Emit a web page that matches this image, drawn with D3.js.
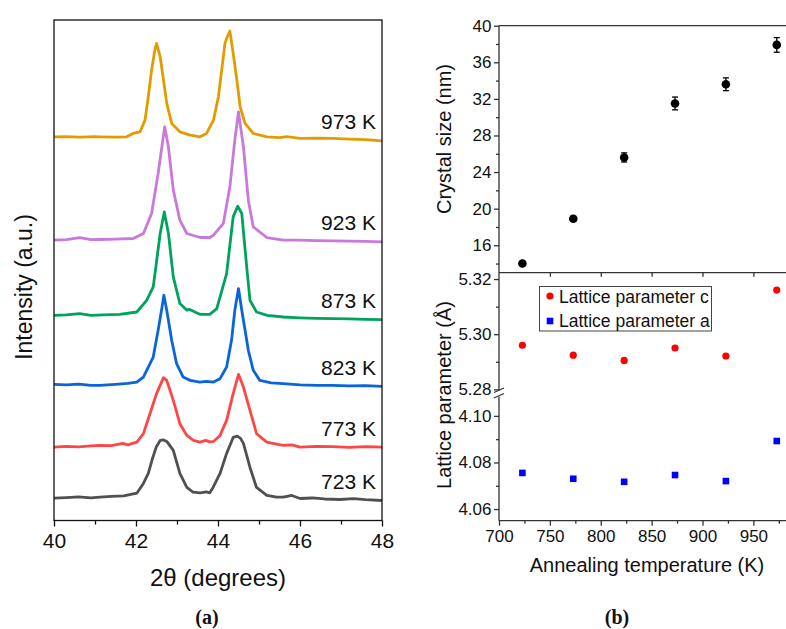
<!DOCTYPE html>
<html><head><meta charset="utf-8">
<script src="https://cdn.jsdelivr.net/npm/d3@7"></script>
<style>
body{margin:0;background:#fff}
svg{display:block;font-family:"Liberation Sans",Arial,sans-serif}
</style>
</head><body><div id="chart"></div>
<script>
// ---------- Panel (a): XRD patterns, [2theta, intensity (a.u.)] ----------
const xrd723 = [[40.00,22.3],[40.30,22.8],[40.60,23.5],[40.90,22.6],[41.12,23.3],[41.40,24.0],[41.70,24.6],[42.02,27.3],[42.18,37],[42.30,47],[42.41,63],[42.50,74],[42.59,80],[42.67,80.5],[42.75,79],[42.91,70],[43.07,47],[43.24,33],[43.39,28.3],[43.56,27.7],[43.72,28.5],[43.80,27.7],[43.88,33],[44.05,47],[44.21,67],[44.37,83],[44.47,84.3],[44.55,82],[44.62,77],[44.78,53],[44.94,33],[45.19,25],[45.40,23.5],[45.59,23.3],[45.80,25],[46.00,22],[46.30,22.5],[46.60,21.5],[46.98,21],[47.30,21.8],[47.60,20.8],[48.00,20]];
const xrd773 = [[40.00,73.3],[40.30,74],[40.60,73.5],[40.90,74.5],[41.12,75],[41.40,74.8],[41.68,77],[41.80,75.5],[42.02,78.3],[42.18,86.7],[42.34,106.7],[42.50,126.7],[42.67,142.7],[42.75,140],[42.91,120],[43.07,96.7],[43.24,85],[43.40,80],[43.56,78.3],[43.70,80],[43.80,78.5],[43.89,79],[44.05,85],[44.21,100],[44.37,126.7],[44.50,146],[44.62,133.3],[44.78,110],[44.94,86.7],[45.19,78.3],[45.40,76.5],[45.59,75],[45.80,75.5],[46.00,73.3],[46.40,74],[46.80,73.8],[47.20,73],[47.60,73.8],[48.00,73.3]];
const xrd823 = [[40.00,136],[40.30,135.5],[40.60,136.3],[40.90,135],[41.12,135],[41.50,136],[41.80,137],[42.02,138.3],[42.18,143.3],[42.42,163.3],[42.54,190],[42.63,212],[42.68,225],[42.75,210],[42.87,180],[42.99,156.7],[43.15,143.3],[43.32,140],[43.56,138.3],[43.72,139],[43.89,138.3],[44.05,141.7],[44.21,153.3],[44.33,180],[44.41,210],[44.50,231.7],[44.58,210],[44.74,170],[44.86,150],[45.02,140],[45.30,137.5],[45.59,136.7],[46.00,135.5],[46.40,135],[46.80,135],[47.20,134.5],[47.60,134.8],[48.00,134]];
const xrd873 = [[40.00,205],[40.30,205.5],[40.63,206.7],[40.90,205],[41.20,205.5],[41.60,206],[42.02,208.3],[42.26,220],[42.42,233.3],[42.59,286.7],[42.69,308.3],[42.79,287],[42.91,243.3],[43.07,216.7],[43.24,210],[43.30,211],[43.45,208],[43.56,206],[43.80,206],[43.97,211.7],[44.21,246.7],[44.37,303.3],[44.48,314],[44.58,306.7],[44.70,253.3],[44.78,220],[44.94,208.3],[45.20,205],[45.59,203.3],[46.00,202.5],[46.40,202],[46.80,201.7],[47.20,201.5],[47.60,201],[48.00,200.7]];
const xrd923 = [[40.00,280],[40.30,280.5],[40.63,282.7],[40.90,280.5],[41.12,280.7],[41.50,281],[41.93,281.7],[42.18,286.7],[42.38,306.7],[42.54,346.7],[42.70,393.3],[42.79,373.3],[42.91,330],[43.07,300],[43.24,286.7],[43.56,282.7],[43.80,282.7],[43.89,285],[44.13,296.7],[44.29,333.3],[44.41,380],[44.50,408.3],[44.62,373.3],[44.74,320],[44.86,293.3],[45.19,282.7],[45.59,280],[46.00,280],[46.40,279.5],[46.80,279.3],[47.20,279],[47.60,278.8],[48.00,278.3]];
const xrd973 = [[40.00,383.3],[40.30,383.5],[40.63,383],[41.00,383.5],[41.12,383.3],[41.50,383],[41.77,383.3],[41.93,386.7],[42.10,388.3],[42.22,400],[42.30,423.3],[42.38,450],[42.46,470],[42.50,476.7],[42.59,463.3],[42.67,440],[42.75,416.7],[42.87,396.7],[43.07,388.3],[43.32,385],[43.56,383.3],[43.72,386.7],[43.89,400],[44.01,423.3],[44.09,450],[44.17,476.7],[44.21,481.7],[44.29,489],[44.37,466.7],[44.46,440],[44.54,413.3],[44.66,396.7],[44.86,386.7],[45.19,383.3],[45.50,382.5],[45.68,383.5],[46.00,381.7],[46.40,382],[46.80,381.7],[47.20,381],[47.60,380.5],[48.00,379.3]];
const xrdLabels = ["723 K","773 K","823 K","873 K","923 K","973 K"];
const xrdColors = ["#505050","#ff4646","#0a64dc","#00a35c","#c978dc","#e39c00"];
const thetaTicks = [40,42,44,46,48];
const thetaMinor = [41,43,45,47];

// ---------- Panel (b) ----------
const temps = [723, 773, 823, 873, 923, 973];
const crystalSize = [14.0, 18.9, 25.6, 31.5, 33.6, 37.9];
const crystalErr = [0.2, 0.25, 0.5, 0.7, 0.7, 0.8];
const latticeC = [5.296, 5.2924, 5.2905, 5.295, 5.2921, 5.316];
const latticeA = [4.0755, 4.073, 4.0717, 4.0746, 4.072, 4.0892];
const tempTicks = [700, 750, 800, 850, 900, 950];
const tempMinor = [725, 775, 825, 875, 925, 975];
const sizeTicks = [16, 20, 24, 28, 32, 36, 40];
const sizeMinor = [14, 18, 22, 26, 30, 34, 38];
const cTicks = [5.28, 5.30, 5.32];
const cMinor = [5.29, 5.31];
const aTicks = [4.06, 4.08, 4.10];
const aMinor = [4.07, 4.09];
const legendLabels = ["Lattice parameter c", "Lattice parameter a"];

const W = 786, H = 629;
const svg = d3.select("#chart").append("svg").attr("width", W).attr("height", H);

// ===== Panel (a) =====
const ax = d3.scaleLinear().domain([40, 48]).range([54, 382]);
const ay = d3.scaleLinear().domain([0, 500]).range([520.5, 20]);
const series = [xrd723, xrd773, xrd823, xrd873, xrd923, xrd973];
const line = d3.line().x(d => ax(d[0])).y(d => ay(d[1]));

series.forEach((s, i) => {
  svg.append("path").datum(s).attr("d", line).attr("fill", "none")
    .attr("stroke", xrdColors[i]).attr("stroke-width", 2.8)
    .attr("stroke-linejoin", "round");
  const last = s[s.length - 1];
  svg.append("text").attr("x", 376).attr("y", ay(last[1]) - 11.5)
    .attr("text-anchor", "end").attr("font-size", 21).attr("fill", "#111")
    .text(xrdLabels[i]);
});

svg.append("rect").attr("x", ax(40)).attr("y", ay(500))
  .attr("width", ax(48) - ax(40)).attr("height", ay(0) - ay(500))
  .attr("fill", "none").attr("stroke", "#111").attr("stroke-width", 1.3);

const axA = svg.append("g").attr("transform", `translate(0,${ay(0)})`)
  .call(d3.axisBottom(ax).tickValues(thetaTicks).tickSize(6).tickPadding(7).tickFormat(d3.format("d")));
axA.select(".domain").remove();
axA.selectAll("text").attr("font-size", 21).attr("fill", "#111")
  .attr("font-family", "'Liberation Sans',Arial,sans-serif");
axA.selectAll("line").attr("stroke", "#111").attr("stroke-width", 1.3);
const axAm = svg.append("g").attr("transform", `translate(0,${ay(0)})`)
  .call(d3.axisBottom(ax).tickValues(thetaMinor).tickSize(4).tickFormat(""));
axAm.select(".domain").remove();
axAm.selectAll("line").attr("stroke", "#111").attr("stroke-width", 1.3);

svg.append("text").attr("x", 218).attr("y", 586).attr("text-anchor", "middle")
  .attr("font-size", 24).attr("fill", "#111").text("2θ (degrees)");
svg.append("text").attr("transform", "translate(32,287) rotate(-90)")
  .attr("text-anchor", "middle").attr("font-size", 23).attr("fill", "#111")
  .text("Intensity (a.u.)");
svg.append("text").attr("x", 207).attr("y", 624).attr("text-anchor", "middle")
  .attr("font-family", "'Liberation Serif','Times New Roman',serif")
  .attr("font-weight", "bold").attr("font-size", 20).attr("fill", "#111").text("(a)");

// ===== Panel (b) =====
const bx = d3.scaleLinear().domain([700, 990]).range([499, 499 + 290 * 1.0175]);
const sy = d3.scaleLinear().domain([13, 40]).range([272.7, 25.7]);
const cy = d3.scaleLinear().domain([5.2785, 5.3223]).range([393.5, 272.7]);
const ayB = d3.scaleLinear().domain([4.055, 4.1096]).range([520.7, 393.5]);
const axisCol = "#333";
const font = "'Liberation Sans',Arial,sans-serif";

function styleAxis(g, fs) {
  g.select(".domain").remove();
  g.selectAll("line").attr("stroke", axisCol).attr("stroke-width", 1.3);
  g.selectAll("text").attr("font-size", fs).attr("fill", "#111").attr("font-family", font);
}

[sy(40), sy(13), ayB(4.055)].forEach(y => {
  svg.append("line").attr("x1", 499).attr("x2", W).attr("y1", y).attr("y2", y)
    .attr("stroke", axisCol).attr("stroke-width", 1.3);
});
svg.append("line").attr("x1", 499).attr("x2", 499).attr("y1", sy(40)).attr("y2", 390.5)
  .attr("stroke", axisCol).attr("stroke-width", 1.3);
svg.append("line").attr("x1", 499).attr("x2", 499).attr("y1", 396.5).attr("y2", ayB(4.055))
  .attr("stroke", axisCol).attr("stroke-width", 1.3);
[[494, 392.5, 504, 388], [494, 398, 504, 393.5]].forEach(p => {
  svg.append("line").attr("x1", p[0]).attr("y1", p[1]).attr("x2", p[2]).attr("y2", p[3])
    .attr("stroke", axisCol).attr("stroke-width", 1.2);
});

styleAxis(svg.append("g").attr("transform", `translate(0,${ayB(4.055)})`)
  .call(d3.axisBottom(bx).tickValues(tempTicks).tickSize(5).tickPadding(4).tickFormat(d3.format("d"))), 17);
styleAxis(svg.append("g").attr("transform", `translate(0,${ayB(4.055)})`)
  .call(d3.axisBottom(bx).tickValues(tempMinor).tickSize(3).tickFormat("")), 17);
styleAxis(svg.append("g").attr("transform", `translate(0,${sy(13)})`)
  .call(d3.axisBottom(bx).tickValues(tempTicks.slice(1)).tickSize(4).tickFormat("")), 17);

styleAxis(svg.append("g").attr("transform", "translate(499,0)")
  .call(d3.axisLeft(sy).tickValues(sizeTicks).tickSize(5).tickPadding(2.5).tickFormat(d3.format("d"))), 17);
styleAxis(svg.append("g").attr("transform", "translate(499,0)")
  .call(d3.axisLeft(sy).tickValues(sizeMinor).tickSize(3).tickFormat("")), 17);
styleAxis(svg.append("g").attr("transform", "translate(499,0)")
  .call(d3.axisLeft(cy).tickValues(cTicks).tickSize(5).tickPadding(2.5).tickFormat(d3.format(".2f"))), 17);
styleAxis(svg.append("g").attr("transform", "translate(499,0)")
  .call(d3.axisLeft(cy).tickValues(cMinor).tickSize(3).tickFormat("")), 17);
styleAxis(svg.append("g").attr("transform", "translate(499,0)")
  .call(d3.axisLeft(ayB).tickValues(aTicks).tickSize(5).tickPadding(2.5).tickFormat(d3.format(".2f"))), 17);
styleAxis(svg.append("g").attr("transform", "translate(499,0)")
  .call(d3.axisLeft(ayB).tickValues(aMinor).tickSize(3).tickFormat("")), 17);

temps.forEach((t, i) => {
  const x = bx(t), y1 = sy(crystalSize[i] - crystalErr[i]), y2 = sy(crystalSize[i] + crystalErr[i]);
  const g = svg.append("g").attr("stroke", "#000").attr("stroke-width", 1.3);
  g.append("line").attr("x1", x).attr("x2", x).attr("y1", y1).attr("y2", y2);
  g.append("line").attr("x1", x - 3).attr("x2", x + 3).attr("y1", y1).attr("y2", y1);
  g.append("line").attr("x1", x - 3).attr("x2", x + 3).attr("y1", y2).attr("y2", y2);
  svg.append("circle").attr("cx", x).attr("cy", sy(crystalSize[i])).attr("r", 4.3).attr("fill", "#000");
});
svg.selectAll(".pc").data(temps).join("circle").attr("class", "pc")
  .attr("cx", d => bx(d)).attr("cy", (d, i) => cy(latticeC[i])).attr("r", 3.6).attr("fill", "#ff0000");
svg.selectAll(".pa").data(temps).join("rect").attr("class", "pa")
  .attr("x", d => bx(d) - 3.3).attr("y", (d, i) => ayB(latticeA[i]) - 3.3)
  .attr("width", 6.6).attr("height", 6.6).attr("fill", "#0000ff");

svg.append("rect").attr("x", 539.5).attr("y", 286.5).attr("width", 172).attr("height", 44.5)
  .attr("fill", "#fff").attr("stroke", "#444").attr("stroke-width", 1);
svg.append("circle").attr("cx", 550).attr("cy", 296).attr("r", 3.6).attr("fill", "#ff0000");
svg.append("rect").attr("x", 546.7).attr("y", 317.7).attr("width", 6.6).attr("height", 6.6).attr("fill", "#0000ff");
svg.append("text").attr("x", 559).attr("y", 302.5).attr("font-size", 17.5).attr("fill", "#111").text(legendLabels[0]);
svg.append("text").attr("x", 559).attr("y", 326.5).attr("font-size", 17.5).attr("fill", "#111").text(legendLabels[1]);

svg.append("text").attr("transform", "translate(451,139) rotate(-90)").attr("text-anchor", "middle")
  .attr("font-size", 20).attr("fill", "#111").text("Crystal size (nm)");
svg.append("text").attr("transform", "translate(451,395) rotate(-90)").attr("text-anchor", "middle")
  .attr("font-size", 20).attr("fill", "#111").text("Lattice parameter (Å)");
svg.append("text").attr("x", 647).attr("y", 572).attr("text-anchor", "middle")
  .attr("font-size", 20).attr("fill", "#111").text("Annealing temperature (K)");
svg.append("text").attr("x", 617).attr("y", 624).attr("text-anchor", "middle")
  .attr("font-family", "'Liberation Serif','Times New Roman',serif")
  .attr("font-weight", "bold").attr("font-size", 20).attr("fill", "#111").text("(b)");
</script>
</body></html>
